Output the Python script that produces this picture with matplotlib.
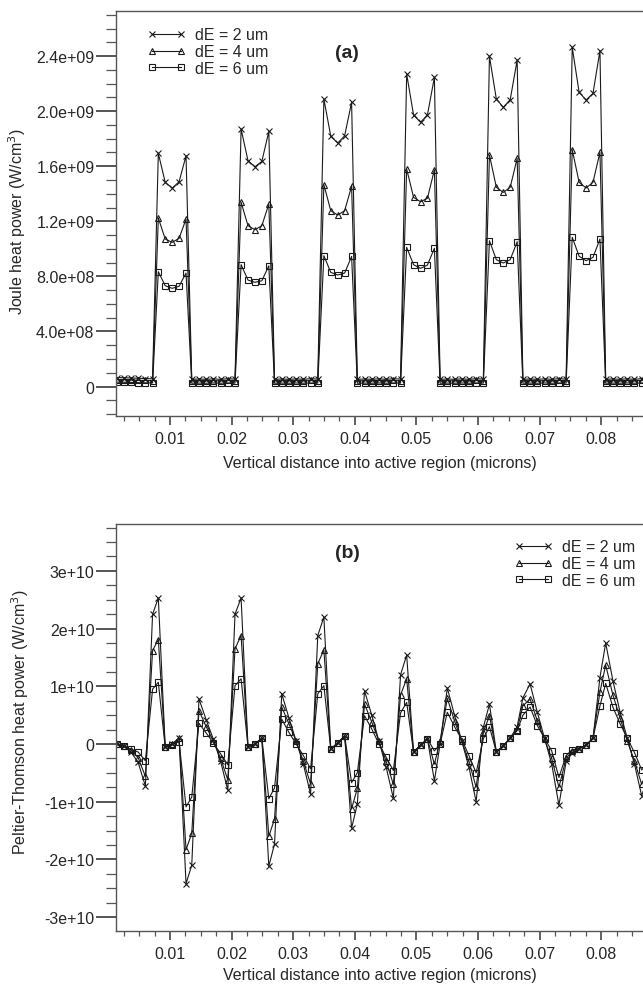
import matplotlib
matplotlib.use("Agg")
import matplotlib.pyplot as plt
from matplotlib.ticker import MultipleLocator, FixedLocator, FixedFormatter
import numpy as np

plt.rcParams['font.family'] = ['Liberation Sans', 'DejaVu Sans']

# ---------------- data ----------------
x_um = [0.00132, 0.00249, 0.00366, 0.00483, 0.00600, 0.00717,
        0.00810, 0.00922, 0.01035, 0.01147, 0.01260, 0.01353, 0.01470, 0.01587, 0.01704, 0.01821, 0.01938, 0.02055,
        0.02154, 0.02266, 0.02379, 0.02491, 0.02604, 0.02697, 0.02814, 0.02931, 0.03048, 0.03165, 0.03282, 0.03399,
        0.03498, 0.03610, 0.03723, 0.03835, 0.03948, 0.04041, 0.04158, 0.04275, 0.04392, 0.04509, 0.04626, 0.04743,
        0.04842, 0.04954, 0.05067, 0.05179, 0.05292, 0.05385, 0.05502, 0.05619, 0.05736, 0.05853, 0.05970, 0.06087,
        0.06186, 0.06298, 0.06411, 0.06523, 0.06636, 0.06729, 0.06846, 0.06963, 0.07080, 0.07197, 0.07314, 0.07431,
        0.07530, 0.07642, 0.07755, 0.07867, 0.07980, 0.08073, 0.08190, 0.08307, 0.08424, 0.08541, 0.08658, 0.08775]

# Joule heat power (units of 1e9 W/cm^3)
joule_dE2 = [0.065, 0.064, 0.062, 0.060, 0.058, 0.056,
             1.693, 1.483, 1.441, 1.487, 1.676, 0.052, 0.055, 0.052, 0.056, 0.052, 0.057, 0.054,
             1.870, 1.640, 1.596, 1.635, 1.853, 0.052, 0.055, 0.052, 0.056, 0.052, 0.057, 0.054,
             2.088, 1.817, 1.768, 1.821, 2.064, 0.052, 0.055, 0.052, 0.056, 0.052, 0.057, 0.054,
             2.269, 1.972, 1.919, 1.972, 2.245, 0.052, 0.055, 0.052, 0.056, 0.052, 0.057, 0.054,
             2.398, 2.088, 2.028, 2.083, 2.371, 0.052, 0.055, 0.052, 0.056, 0.052, 0.057, 0.054,
             2.463, 2.137, 2.081, 2.129, 2.439, 0.052, 0.055, 0.052, 0.056, 0.052, 0.057, 0.054]
joule_dE4 = [0.050, 0.049, 0.047, 0.045, 0.044, 0.043,
             1.224, 1.071, 1.047, 1.076, 1.216, 0.040, 0.042, 0.040, 0.043, 0.040, 0.044, 0.041,
             1.338, 1.168, 1.139, 1.168, 1.325, 0.040, 0.042, 0.040, 0.043, 0.040, 0.044, 0.041,
             1.466, 1.277, 1.245, 1.277, 1.454, 0.040, 0.042, 0.040, 0.043, 0.040, 0.044, 0.041,
             1.580, 1.374, 1.342, 1.367, 1.574, 0.040, 0.042, 0.040, 0.043, 0.040, 0.044, 0.041,
             1.681, 1.447, 1.410, 1.447, 1.657, 0.040, 0.042, 0.040, 0.043, 0.040, 0.044, 0.041,
             1.720, 1.483, 1.442, 1.483, 1.701, 0.040, 0.042, 0.040, 0.043, 0.040, 0.044, 0.041]
joule_dE6 = [0.032, 0.031, 0.030, 0.028, 0.027, 0.026,
             0.834, 0.732, 0.713, 0.728, 0.824, 0.024, 0.025, 0.024, 0.026, 0.024, 0.026, 0.025,
             0.885, 0.773, 0.757, 0.768, 0.877, 0.024, 0.025, 0.024, 0.026, 0.024, 0.026, 0.025,
             0.950, 0.829, 0.810, 0.824, 0.945, 0.024, 0.025, 0.024, 0.026, 0.024, 0.026, 0.025,
             1.011, 0.885, 0.858, 0.882, 1.004, 0.024, 0.025, 0.024, 0.026, 0.024, 0.026, 0.025,
             1.059, 0.921, 0.897, 0.921, 1.052, 0.024, 0.025, 0.024, 0.026, 0.024, 0.026, 0.025,
             1.084, 0.946, 0.914, 0.938, 1.071, 0.024, 0.025, 0.024, 0.026, 0.024, 0.026, 0.025]

# Peltier-Thomson heat power (units of 1e10 W/cm^3)
pelt_dE2 = [0.00, -0.04, -0.14, -0.32, -0.73, 2.25,
            2.53, -0.05, 0.00, 0.10, -2.42, -2.10, 0.78, 0.42, 0.08, -0.30, -0.80, 2.25,
            2.53, -0.05, 0.00, 0.10, -2.12, -1.73, 0.87, 0.45, 0.05, -0.35, -0.87, 1.88,
            2.20, -0.09, 0.02, 0.14, -1.46, -1.04, 0.92, 0.50, 0.05, -0.40, -0.94, 1.20,
            1.54, -0.14, -0.02, 0.09, -0.64, 0.00, 0.97, 0.50, 0.05, -0.40, -1.00, 0.29,
            0.69, -0.14, -0.03, 0.10, 0.30, 0.80, 1.04, 0.55, 0.10, -0.35, -1.06, -0.30,
            -0.15, -0.08, -0.02, 0.10, 1.15, 1.75, 1.10, 0.55, 0.10, -0.35, -0.90, -0.50]
pelt_dE4 = [0.00, -0.03, -0.10, -0.24, -0.56, 1.62,
            1.81, -0.05, 0.00, 0.10, -1.83, -1.55, 0.58, 0.30, 0.05, -0.25, -0.62, 1.65,
            1.88, -0.05, 0.00, 0.10, -1.60, -1.30, 0.64, 0.35, 0.05, -0.30, -0.69, 1.39,
            1.63, -0.09, 0.02, 0.14, -1.12, -0.77, 0.69, 0.38, 0.05, -0.30, -0.70, 0.85,
            1.13, -0.14, -0.02, 0.09, -0.35, 0.05, 0.79, 0.40, 0.05, -0.30, -0.75, 0.20,
            0.49, -0.14, -0.03, 0.10, 0.25, 0.66, 0.78, 0.40, 0.08, -0.25, -0.75, -0.25,
            -0.12, -0.08, -0.02, 0.10, 0.90, 1.37, 0.85, 0.45, 0.05, -0.30, -0.70, -0.40]
pelt_dE6 = [0.00, -0.04, -0.09, -0.14, -0.29, 0.95,
            1.07, -0.06, -0.01, 0.04, -1.09, -0.92, 0.36, 0.19, 0.02, -0.17, -0.36, 1.01,
            1.13, -0.05, 0.00, 0.10, -0.95, -0.76, 0.43, 0.20, 0.00, -0.20, -0.43, 0.87,
            1.01, -0.09, 0.02, 0.14, -0.67, -0.50, 0.49, 0.26, 0.00, -0.23, -0.46, 0.54,
            0.72, -0.14, -0.02, 0.09, -0.12, 0.00, 0.55, 0.30, 0.08, -0.20, -0.50, 0.09,
            0.30, -0.14, -0.03, 0.10, 0.23, 0.50, 0.64, 0.32, 0.10, -0.12, -0.58, -0.20,
            -0.10, -0.08, -0.02, 0.10, 0.66, 1.05, 0.64, 0.35, 0.10, -0.15, -0.45, -0.30]

labels = ['dE = 2 um', 'dE = 4 um', 'dE = 6 um']
joule_ticks = [0, 4e8, 8e8, 1.2e9, 1.6e9, 2.0e9, 2.4e9]
joule_ticklabels = ['0', '4.0e+08', '8.0e+08', '1.2e+09', '1.6e+09', '2.0e+09', '2.4e+09']
pelt_ticks = [-3e10, -2e10, -1e10, 0, 1e10, 2e10, 3e10]
pelt_ticklabels = ['-3e+10', '-2e+10', '-1e+10', '0', '1e+10', '2e+10', '3e+10']
x_ticks = [0.01, 0.02, 0.03, 0.04, 0.05, 0.06, 0.07, 0.08]
x_ticklabels = ['0.01', '0.02', '0.03', '0.04', '0.05', '0.06', '0.07', '0.08']

# ---------------- figure ----------------
W, H = 643, 987
fig = plt.figure(figsize=(W / 100, H / 100), dpi=100)
FS = 11.5
TXT = '#262626'
SP = '#555555'

def px_axes(left, top, right, bottom):
    return [left / W, 1 - bottom / H, (right - left) / W, (bottom - top) / H]

ax1 = fig.add_axes(px_axes(116, 12.3, 643, 417))
ax2 = fig.add_axes(px_axes(116, 524.5, 643, 932))

x = np.array(x_um)
styles = [dict(marker='x', ms=5, mew=0.8),
          dict(marker='^', ms=4.5, mew=0.8, mfc='none'),
          dict(marker='s', ms=4.5, mew=0.8, mfc='none')]

for ser, st, lab in zip([joule_dE2, joule_dE4, joule_dE6], styles, labels):
    ax1.plot(x, np.array(ser) * 1e9, color='#1a1a1a', lw=0.8, mec='#1a1a1a',
             label=lab, clip_on=True, **st)
for ser, st, lab in zip([pelt_dE2, pelt_dE4, pelt_dE6], styles, labels):
    ax2.plot(x, np.array(ser) * 1e10, color='#1a1a1a', lw=0.8, mec='#1a1a1a',
             label=lab, clip_on=True, **st)

ax1.set_xlim(0.00123, 0.08679)
ax2.set_xlim(0.00123, 0.08679)
ax1.set_ylim(-0.214e9, 2.725e9)
ax2.set_ylim(-3.241e10, 3.821e10)

for ax, yt, ytl, ymin in [(ax1, joule_ticks, joule_ticklabels, 1e8),
                          (ax2, pelt_ticks, pelt_ticklabels, 2.5e9)]:
    ax.yaxis.set_major_locator(FixedLocator(yt))
    ax.yaxis.set_major_formatter(FixedFormatter(ytl))
    ax.yaxis.set_minor_locator(MultipleLocator(ymin))
    ax.xaxis.set_major_locator(FixedLocator(x_ticks))
    ax.xaxis.set_major_formatter(FixedFormatter(x_ticklabels))
    ax.xaxis.set_minor_locator(MultipleLocator(0.0025))
    ax.tick_params(axis='y', which='major', direction='out', length=14.5, width=1.4,
                   pad=1, labelsize=FS, colors=SP, labelcolor=TXT)
    ax.tick_params(axis='y', which='minor', direction='out', length=7.2, width=0.9, colors=SP)
    ax.tick_params(axis='x', which='major', direction='out', length=6.5, width=1.3,
                   pad=4.5, labelsize=FS, colors=SP, labelcolor=TXT)
    ax.tick_params(axis='x', which='minor', direction='out', length=3.6, width=0.9, colors=SP)
    ax.spines['right'].set_visible(False)
    for s in ['left', 'top', 'bottom']:
        ax.spines[s].set_color(SP)
        ax.spines[s].set_linewidth(1.0)

# axis labels
fig.text(17 / W, 1 - 222 / H, 'Joule heat power (W/cm$^3$)', rotation=90,
         ha='center', va='center', fontsize=FS, color=TXT)
fig.text(20 / W, 1 - 722 / H, 'Peltier-Thomson heat power (W/cm$^3$)', rotation=90,
         ha='center', va='center', fontsize=FS, color=TXT)
fig.text(380 / W, 1 - 464 / H, 'Vertical distance into active region (microns)',
         ha='center', va='center', fontsize=FS, color=TXT)
fig.text(380 / W, 1 - 976 / H, 'Vertical distance into active region (microns)',
         ha='center', va='center', fontsize=FS, color=TXT)

# panel letters
fig.text(347 / W, 1 - 53 / H, '(a)', ha='center', va='center', fontsize=14,
         fontweight='bold', color=TXT)
fig.text(347 / W, 1 - 554 / H, '(b)', ha='center', va='center', fontsize=14,
         fontweight='bold', color=TXT)

# legends
leg_kw = dict(frameon=False, numpoints=2, handlelength=2.45, handletextpad=0.55,
              labelspacing=0.1, borderpad=0, borderaxespad=0, fontsize=FS,
              markerscale=0.9, loc='upper left')
l1 = ax1.legend(bbox_to_anchor=(147 / W, 1 - 28.5 / H), bbox_transform=fig.transFigure, **leg_kw)
l2 = ax2.legend(bbox_to_anchor=(514 / W, 1 - 540.5 / H), bbox_transform=fig.transFigure, **leg_kw)
for l in (l1, l2):
    for t in l.get_texts():
        t.set_color(TXT)

fig.savefig('out.png', dpi=100)
